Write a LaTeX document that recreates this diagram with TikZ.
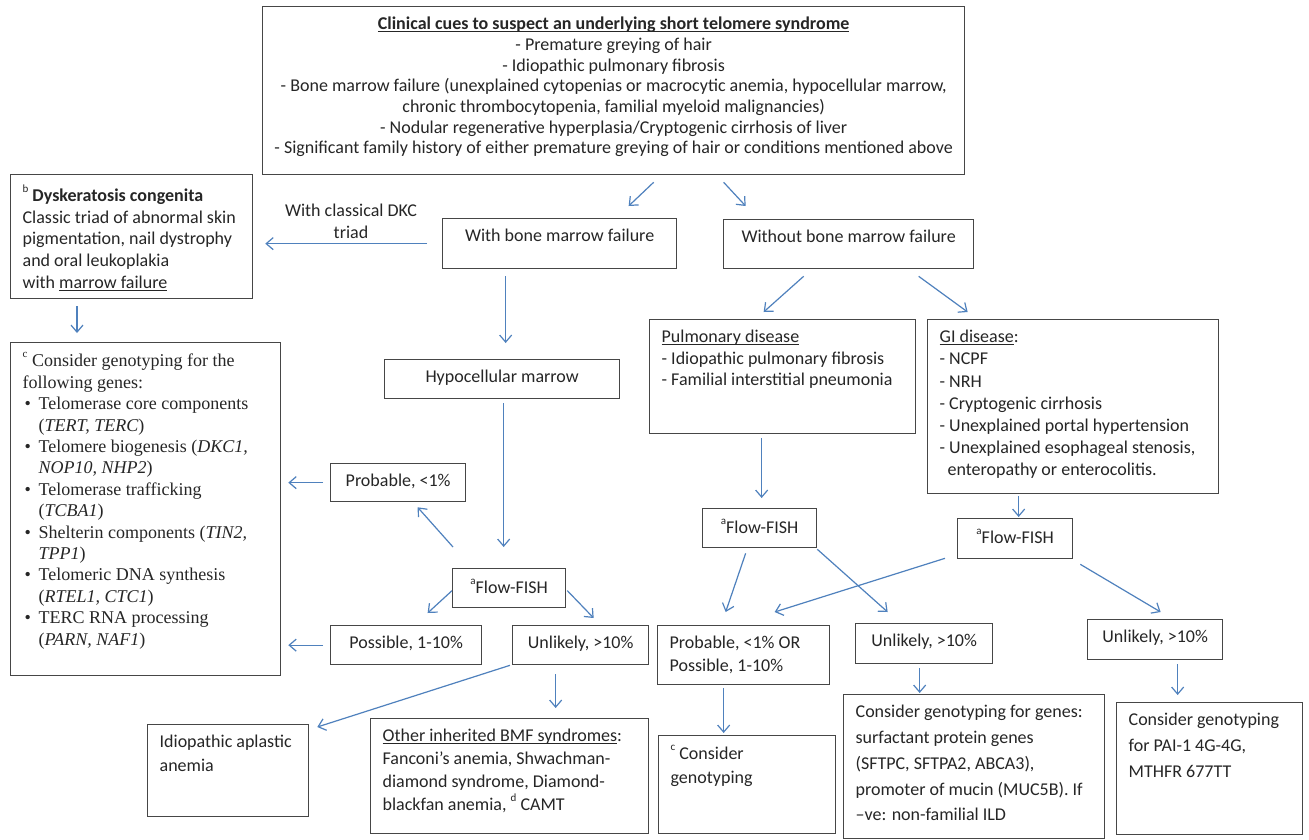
\documentclass[tikz,border=0pt]{standalone}
\usepackage{fontspec}
\setmainfont{Carlito}
\newfontfamily\tms{Liberation Serif}
\usetikzlibrary{arrows.meta,calc}
\definecolor{txt}{RGB}{38,38,38}
\definecolor{bord}{RGB}{70,70,70}
\definecolor{arrc}{RGB}{79,129,189}
\newcommand{\spr}[1]{\raisebox{0.5em}{\fontsize{11}{11}\selectfont #1}}
\newcommand{\uln}[1]{\setbox0\hbox{#1}\rlap{\rule[-2.6pt]{\wd0}{0.9pt}}\box0}
\newcommand{\bx}[5]{\parbox[c][\dimexpr#2pt-20pt\relax][t]{\dimexpr#1pt-24pt\relax}{\fontsize{18}{#3}\selectfont#4\rule{0pt}{13pt}#5}}
\newcommand{\itm}{\makebox[16pt][l]{\hspace{2pt}\textbullet}}
\newcommand{\ind}{\hspace*{16pt}}
\begin{document}
\begin{tikzpicture}[x=1pt,y=-1pt,
  box/.style={draw=bord,line width=1.3pt,anchor=north west,inner xsep=12pt,inner ysep=10pt,text=txt},
  arr/.style={draw=arrc,line width=1.2pt,-{Straight Barb[length=7pt,width=12pt]}}]
\fill[white] (0,0) rectangle (1309,839);
\useasboundingbox (0,0) rectangle (1309,839);

% top box
\node[box,inner xsep=2pt] (top) at (262,6) {\parbox[c][148pt][t]{698pt}{\fontsize{18}{20.7}\selectfont\centering\rule{0pt}{13pt}\textbf{\uln{Clinical cues to suspect an underlying short telomere syndrome}}\\
- Premature greying of hair\\
- Idiopathic pulmonary fibrosis\\
- Bone marrow failure (unexplained cytopenias or macrocytic anemia, hypocellular marrow,\\
chronic thrombocytopenia, familial myeloid malignancies)\\
- Nodular regenerative hyperplasia/Cryptogenic cirrhosis of liver\\
- Significant family history of either premature greying of hair or conditions mentioned above}};

% row 2
\node[box] (dysk) at (10,174) {\bx{242}{124}{21.8}{\raggedright}{\spr{b} \textbf{Dyskeratosis congenita}\\
Classic triad of abnormal skin\\
pigmentation, nail dystrophy\\
and oral leukoplakia\\
with \uln{marrow failure}}};
\node[anchor=north,inner sep=0pt,text=txt,align=center,font=\fontsize{18}{22}\selectfont] (dkclab) at (351,203) {\rule{0pt}{13pt}With classical DKC\\triad};
\node[box] (wbmf) at (442,218) {\bx{234}{50}{21.6}{\centering}{With bone marrow failure}};
\node[box] (wobmf) at (723,219) {\bx{250}{49}{21.6}{\centering}{Without bone marrow failure}};

% row 3
\node[box] (geno) at (10,342) {\bx{270}{333}{21.4}{\raggedright\tms}{\spr{c} Consider genotyping for the\\
following genes:\\
\itm Telomerase core components\\
\ind(\textit{TERT, TERC})\\
\itm Telomere biogenesis (\textit{DKC1,}\\
\ind\textit{NOP10, NHP2})\\
\itm Telomerase trafficking\\
\ind(\textit{TCBA1})\\
\itm Shelterin components (\textit{TIN2,}\\
\ind\textit{TPP1})\\
\itm Telomeric DNA synthesis\\
\ind(\textit{RTEL1, CTC1})\\
\itm TERC RNA processing\\
\ind(\textit{PARN, NAF1})}};
\node[box] (hypo) at (384,359) {\bx{235}{39}{21.6}{\centering}{Hypocellular marrow}};
\node[box] (pulm) at (649,319) {\bx{266}{114}{21.5}{\raggedright}{\uln{Pulmonary disease}\\
- Idiopathic pulmonary fibrosis\\
- Familial interstitial pneumonia}};
\node[box] (gi) at (927,319) {\bx{291}{174}{22.2}{\raggedright}{\uln{GI disease}:\\
- NCPF\\
- NRH\\
- Cryptogenic cirrhosis\\
- Unexplained portal hypertension\\
- Unexplained esophageal stenosis,\\
\hspace*{8pt}enteropathy or enterocolitis.}};

% flow-fish level
\node[box] (prob) at (330,463) {\bx{135}{38}{21.6}{\centering}{Probable, <1\%}};
\node[box] (ffl) at (452,568) {\bx{113}{39}{21.6}{\centering}{\spr{a}Flow-FISH}};
\node[box] (ffm) at (702,508) {\bx{114}{39}{21.6}{\centering}{\spr{a}Flow-FISH}};
\node[box] (ffr) at (957,518) {\bx{115}{40}{21.6}{\centering}{\spr{a}Flow-FISH}};

% results
\node[box] (poss) at (330,625) {\bx{151}{39}{21.6}{\centering}{Possible, 1-10\%}};
\node[box] (unl) at (512,625) {\bx{136}{39}{21.6}{\centering}{Unlikely, >10\%}};
\node[box] (probor) at (657,625) {\bx{172}{59}{23}{\raggedright}{Probable, <1\% OR\\Possible, 1-10\%}};
\node[box] (unm) at (855,623) {\bx{137}{40}{21.6}{\centering}{Unlikely, >10\%}};
\node[box] (unr) at (1087,619) {\bx{135}{40}{21.6}{\centering}{Unlikely, >10\%}};

% bottom
\node[box] (idio) at (147,724) {\bx{161}{92}{24}{\raggedright}{Idiopathic aplastic\\anemia}};
\node[box] (other) at (370,718) {\bx{278}{115}{23}{\raggedright}{\uln{Other inherited BMF syndromes}:\\
Fanconi’s anemia, Shwachman-\\
diamond syndrome, Diamond-\\
blackfan anemia, \spr{d} CAMT}};
\node[box] (ccons) at (658,735) {\bx{177}{98}{24}{\raggedright}{\spr{c} Consider\\genotyping}};
\node[box] (genes) at (843,694) {\bx{261}{144}{25.8}{\raggedright}{Consider genotyping for genes:\\
surfactant protein genes\\
(SFTPC, SFTPA2, ABCA3),\\
promoter of mucin (MUC5B). If\\
\textendash ve: non-familial ILD}};
\node[box] (pai) at (1116,702) {\bx{186}{132}{26}{\raggedright}{Consider genotyping\\
for PAI-1 4G-4G,\\
MTHFR 677TT}};

% connectors
\draw[arr] ($(top.south)+(40,7)$) -- ($(wbmf.north)+(69,-12)$);
\draw[arr] ($(top.south)+(110,7)$) -- ($(wobmf.north)+(-103,-13)$);
\draw[arr] ($(wbmf.west)+(-15,0)$) -- ($(dysk.east)+(12,7)$);
\draw[arr] ($(dysk.south west)+(67,7)$) -- ($(geno.north west)+(67,-9)$);
\draw[arr] ($(wbmf.south)+(-54,7)$) -- ($(hypo.north)+(3.5,-16)$);
\draw[arr] ($(wobmf.south)+(-45,7)$) -- ($(pulm.north)+(-19,-7)$);
\draw[arr] ($(wobmf.south)+(70,7)$) -- ($(gi.north)+(-105.5,-7)$);
\draw[arr] ($(hypo.south)+(1.5,4)$) -- ($(ffl.north)+(-5.5,-21)$);
\draw[arr] ($(ffl.north west)+(1,-21)$) -- ($(prob.south)+(19.5,5)$);
\draw[arr,shorten <=7pt,shorten >=7pt] (prob.west) -- (prob.west -| geno.east);
\draw[arr] ($(ffl.west)+(0,2.5)$) -- ($(poss.north)+(21.5,-12)$);
\draw[arr] ($(ffl.east)+(1,2.5)$) -- ($(unl.north)+(13,-7)$);
\draw[arr,shorten <=7pt,shorten >=7pt] (poss.west) -- (poss.west -| geno.east);
\draw[arr] ($(unl.south west)+(-2,0)$) -- ($(idio.north east)+(8,3)$);
\draw[arr] ($(unl.south)+(-25,9)$) -- ($(other.north)+(46,-10)$);
\draw[arr] ($(pulm.south)+(-21,4)$) -- ($(ffm.north)+(2,-10)$);
\draw[arr] ($(gi.south)+(-54.5,2)$) -- ($(ffr.north)+(3.5,-1)$);
\draw[arr] ($(ffm.south)+(-14,5)$) -- ($(probor.north)+(-18,-13)$);
\draw[arr] ($(ffm.south east)+(0,1)$) -- ($(unm.north)+(-36.5,-11)$);
\draw[arr] ($(ffr.south west)+(-12,-1)$) -- ($(probor.north)+(31,-13)$);
\draw[arr] ($(ffr.south east)+(7,5)$) -- ($(unr.north)+(5.5,-7)$);
\draw[arr] ($(probor.south)+(-20,3)$) -- ($(ccons.north)+(-23.5,-2)$);
\draw[arr] ($(unm.south)+(-4.5,4)$) -- ($(genes.north)+(-54.5,-1)$);
\draw[arr] ($(unr.south)+(22.5,4)$) -- ($(pai.north)+(-32,-7)$);
\end{tikzpicture}
\end{document}
